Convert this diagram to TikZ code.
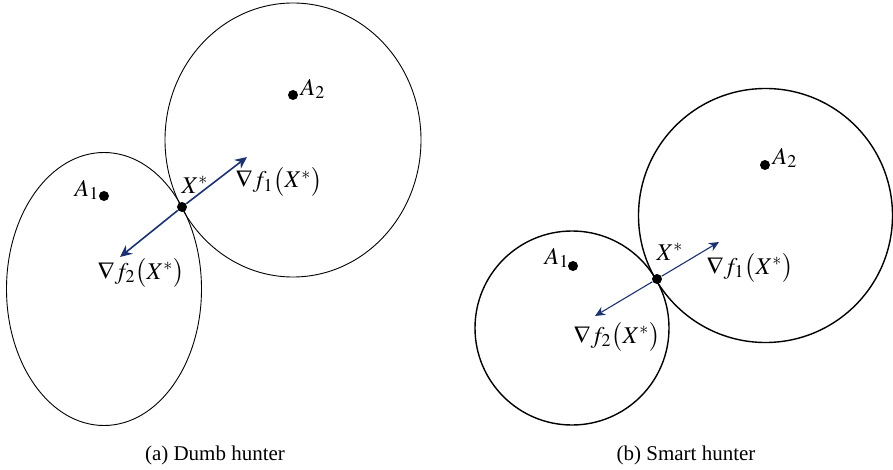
\documentclass[tikz,border=0pt]{standalone}
\usepackage{mathptmx}
\usepackage[no-math]{fontspec}
\setmainfont{Liberation Serif}
\usetikzlibrary{arrows.meta,positioning}
\definecolor{navy}{RGB}{28,50,112}
\begin{document}
\begin{tikzpicture}[x=0.5pt,y=-0.5pt,font=\fontsize{12}{14}\selectfont,dot/.style={circle,fill=black,minimum size=5pt,inner sep=0pt},grad/.style={-{Stealth[length=6pt,width=5.5pt,inset=2pt]},navy,line width=0.8pt},caption/.style={font=\fontsize{10.5}{12}\selectfont}]
\useasboundingbox (0,0) rectangle (893,470);
% (a) dumb hunter
\draw[line width=0.45pt] (104,289) ellipse [x radius=97.5,y radius=136.5];
\draw[line width=0.45pt] (293,140) ellipse [x radius=128,y radius=137];
\node[dot] (A1a) at (104,196) {};
\node[dot] (A2a) at (293,95) {};
\node[dot] (Xa) at (182,207) {};
\coordinate (g1a) at (247,157);
\coordinate (g2a) at (120,257);
\draw[grad] (Xa) -- (g1a);
\draw[grad] (Xa) -- (g2a);
\node (lA1a) at (87,190) {$A_1$};
\node (lA2a) at (313,89) {$A_2$};
\node (lXa) at (195,185) {$X^*$};
\node (lg1a) at (279,182) {$\nabla f_1\bigl(X^*\bigr)$};
\node (lg2a) at (141,273) {$\nabla f_2\bigl(X^*\bigr)$};
\node[caption] (capa) at (215,455) {(a) Dumb hunter};
% (b) smart hunter
\draw[line width=0.7pt] (572,328) circle [radius=97];
\draw[line width=0.7pt] (765.5,215.5) circle [radius=127];
\node[dot] (A1b) at (573,266) {};
\node[dot] (A2b) at (765,165) {};
\node[dot] (Xb) at (657,279) {};
\coordinate (g1b) at (719,242);
\coordinate (g2b) at (595,316);
\draw[grad,-{Stealth[length=5pt,width=4.5pt,inset=1.6pt]},line width=0.55pt] (Xb) -- (g1b);
\draw[grad,-{Stealth[length=5pt,width=4.5pt,inset=1.6pt]},line width=0.55pt] (Xb) -- (g2b);
\node (lA1b) at (557,258) {$A_1$};
\node (lA2b) at (785,158) {$A_2$};
\node (lXb) at (670,252) {$X^*$};
\node (lg1b) at (750,268) {$\nabla f_1\bigl(X^*\bigr)$};
\node (lg2b) at (617,337) {$\nabla f_2\bigl(X^*\bigr)$};
\node[caption] (capb) at (686,455) {(b) Smart hunter};
\end{tikzpicture}
\end{document}
